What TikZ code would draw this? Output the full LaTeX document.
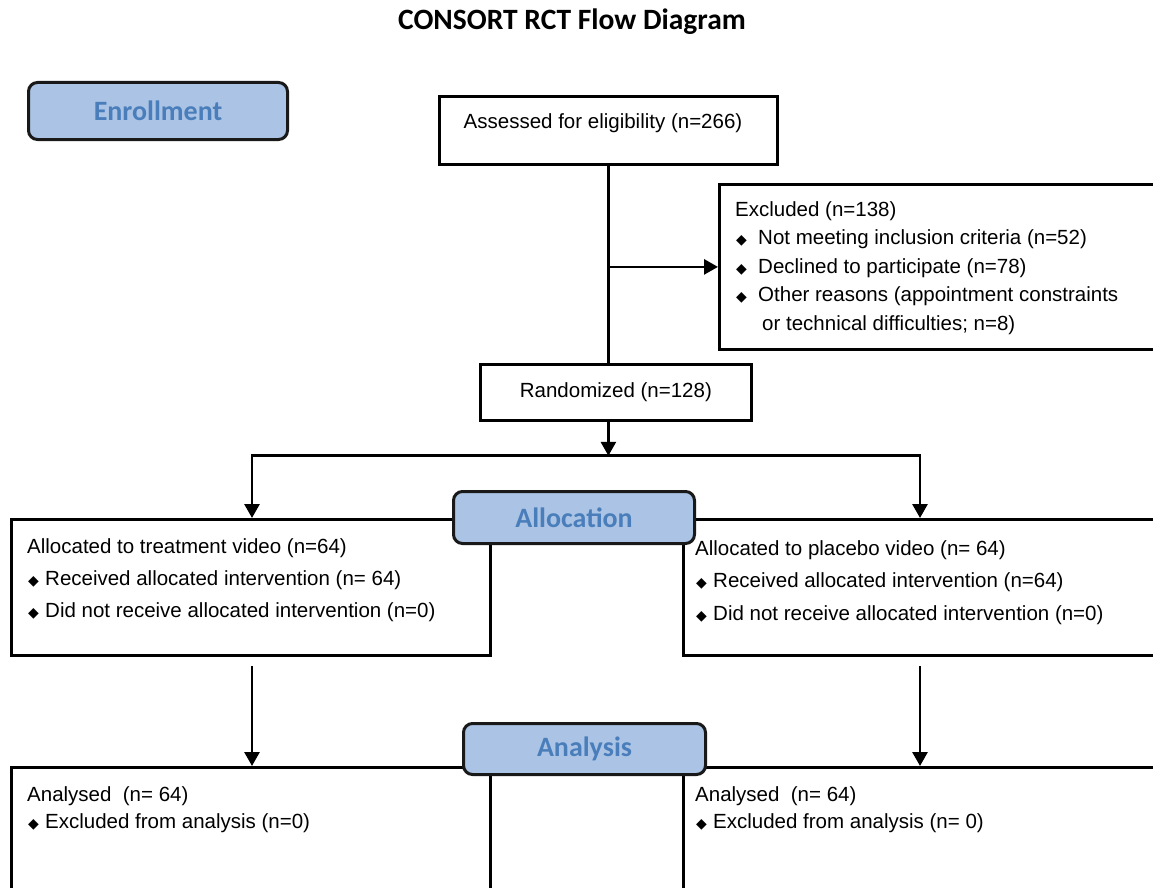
\documentclass[tikz,border=0pt]{standalone}
\usepackage{fontspec}
\setmainfont{Liberation Sans}
\newfontfamily\calib{Carlito}
\newfontfamily\djv{DejaVu Sans}
\usetikzlibrary{arrows.meta,calc}
\definecolor{lblue}{HTML}{ABC4E5}
\definecolor{tblue}{HTML}{4A7EBB}
\newcommand{\bul}{{\djv\fontsize{14}{14}\selectfont ◆}}
\newcommand{\bl}[1]{\makebox[#1][l]{\hspace{1pt}\bul}}
\begin{document}
\begin{tikzpicture}[x=1pt,y=-1pt,
  box/.style={draw, line width=2.8pt, anchor=north west, inner sep=0pt},
  stage/.style={draw=black!90, line width=3pt, rounded corners=9pt, fill=lblue, text=tblue,
    font=\calib\bfseries\fontsize{28}{30}\selectfont, anchor=north west, inner sep=0pt},
  txt/.style={font=\fontsize{20.5}{32}\selectfont, align=left, anchor=north west, inner sep=0pt},
  arr/.style={line width=2.8pt, -{Triangle[length=14pt,width=15pt]}},
  ln/.style={line width=2.8pt}]
\useasboundingbox (0,0) rectangle (1153,888);
\clip (0,0) rectangle (1153,888);

\node[font=\calib\bfseries\fontsize{29.5}{32}\selectfont] (title) at (572,22) {CONSORT RCT Flow Diagram};

\node[stage, minimum width=259pt, minimum height=57pt] (enroll) at (27,81) {Enrollment};

\node[box, minimum width=338pt, minimum height=68pt] (assessed) at (438,95) {};
\node[txt, anchor=center] (assessedtxt) at (603,123) {Assessed for eligibility (n=266)};

\node[box, minimum width=450pt, minimum height=165pt] (excl) at (718,183) {};
\node[txt, font=\fontsize{20.5}{28.5}\selectfont] (excltxt) at (735,201) {Excluded (n=138)\\
\bl{23pt}Not meeting inclusion criteria (n=52)\\
\bl{23pt}Declined to participate (n=78)\\
\bl{23pt}Other reasons (appointment constraints\\
\hspace*{27pt}or technical difficulties; n=8)};

\node[box, minimum width=271pt, minimum height=56pt, font=\fontsize{20.5}{24}\selectfont] (rand) at (479,363) {Randomized (n=128)};

\draw[ln] (assessed.south) -- (assessed.south |- rand.north);
\draw[arr] (assessed.south |- excl.west) -- (excl.west);
\path (assessed.south |- rand.south) ++(0,34) coordinate (split);
\draw[arr] (assessed.south |- rand.south) -- (split);

\node[box, minimum width=479pt, minimum height=136pt] (allocL) at (10,518) {};
\node[box, minimum width=480pt, minimum height=136pt] (allocR) at (682,518) {};
\draw[arr] (split) -| ($(allocL.north west)+(242,0)$);
\draw[arr] (split) -| ($(allocR.north west)+(238,0)$);

\node[txt] (allocLtxt) at (27,538) {Allocated to treatment video (n=64)\\
\bl{18pt}Received allocated intervention (n= 64)\\
\bl{18pt}Did not receive allocated intervention (n=0)};
\node[txt, font=\fontsize{20.5}{32.5}\selectfont] (allocRtxt) at (695,540) {Allocated to placebo video (n= 64)\\
\bl{18pt}Received allocated intervention (n=64)\\
\bl{18pt}Did not receive allocated intervention (n=0)};

\node[stage, minimum width=241pt, minimum height=52pt] (allocation) at (452,490) {Allocation};

\node[box, minimum width=479pt, minimum height=160pt] (anL) at (10,766) {};
\node[box, minimum width=480pt, minimum height=160pt] (anR) at (682,766) {};
\draw[arr] ($(allocL.south west)+(242,9)$) -- ($(anL.north west)+(242,0)$);
\draw[arr] ($(allocR.south west)+(238,9)$) -- ($(anR.north west)+(238,0)$);

\node[txt, font=\fontsize{20.5}{27}\selectfont] (anLtxt) at (27,786) {Analysed\ \ (n= 64)\\
\bl{18pt}Excluded from analysis (n=0)};
\node[txt, font=\fontsize{20.5}{27}\selectfont] (anRtxt) at (695,786) {Analysed\ \ (n= 64)\\
\bl{18pt}Excluded from analysis (n= 0)};

\node[stage, minimum width=242pt, minimum height=51pt] (analysis) at (462,722) {Analysis};
\end{tikzpicture}
\end{document}
